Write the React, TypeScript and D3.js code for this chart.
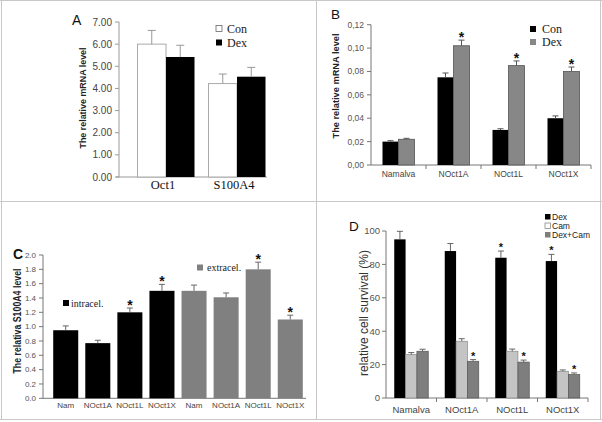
import React from 'react';
import * as d3 from 'd3';

const SANS = '"Liberation Sans", Arial, sans-serif';
const SERIF = '"Liberation Serif", "Times New Roman", serif';

// ---------- Panel A ----------
const catsA = ['Oct1', 'S100A4'];
const conA = [6.0, 4.22];
const conErrA = [0.62, 0.43];
const dexA = [5.42, 4.53];
const dexErrA = [0.53, 0.42];
const ticksA = [0, 1, 2, 3, 4, 5, 6, 7];

// ---------- Panel B ----------
const catsB = ['Namalva', 'NOct1A', 'NOct1L', 'NOct1X'];
const conB = [0.02, 0.075, 0.03, 0.04];
const conErrB = [0.0008, 0.0037, 0.001, 0.002];
const dexB = [0.022, 0.102, 0.085, 0.08];
const dexErrB = [0.0008, 0.0048, 0.004, 0.0038];
const starB = [false, true, true, true];
const ticksB = [0, 0.02, 0.04, 0.06, 0.08, 0.1, 0.12];

// ---------- Panel C ----------
const catsC = ['Nam', 'NOct1A', 'NOct1L', 'NOct1X'];
const intraC = [0.95, 0.77, 1.2, 1.5];
const intraErrC = [0.06, 0.04, 0.06, 0.09];
const intraStarC = [false, false, true, true];
const extraC = [1.5, 1.41, 1.8, 1.1];
const extraErrC = [0.08, 0.06, 0.1, 0.06];
const extraStarC = [false, false, true, true];
const ticksC = [0, 0.2, 0.4, 0.6, 0.8, 1.0, 1.2, 1.4, 1.6, 1.8, 2.0];

// ---------- Panel D ----------
const catsD = ['Namalva', 'NOct1A', 'NOct1L', 'NOct1X'];
const dexD = [95, 88, 84, 82];
const dexErrD = [4.8, 4.5, 4, 4];
const dexStarD = [false, false, true, true];
const camD = [26, 34, 28, 16];
const camErrD = [1.2, 1.5, 1.3, 0.8];
const dcD = [28, 22, 21.5, 14];
const dcErrD = [1.2, 1.0, 1.2, 1.0];
const dcStarD = [false, true, true, true];
const ticksD = [0, 20, 40, 60, 80, 100];
const legendD = ['Dex', 'Cam', 'Dex+Cam'];

const ErrBar = ({ x, y0, y1, cap, color }: { x: number; y0: number; y1: number; cap: number; color: string }) => (
  <g stroke={color} strokeWidth={1}>
    <line x1={x} x2={x} y1={y0} y2={y1} />
    <line x1={x - cap} x2={x + cap} y1={y1} y2={y1} />
  </g>
);

function PanelA() {
  const y = d3.scaleLinear().domain([0, 7]).range([177, 22]);
  const x = d3.scaleBand().domain(catsA).range([130.5, 272.5]);
  const sub = d3.scaleBand().domain(['Con', 'Dex']).range([0, 57]);
  const axisC = '#9a9a9a';
  return (
    <g>
      <text x={72} y={25} fontFamily={SANS} fontSize={14} fill="#111">A</text>
      {ticksA.map((t) => (
        <g key={t}>
          <line x1={115} x2={119} y1={y(t)} y2={y(t)} stroke={axisC} />
          <text x={112} y={y(t)} dy="0.35em" textAnchor="end" fontFamily={SANS} fontSize={10} fill="#444">
            {d3.format('.2f')(t)}
          </text>
        </g>
      ))}
      <line x1={119} x2={119} y1={22} y2={177} stroke={axisC} />
      <line x1={116} x2={267} y1={177} y2={177} stroke={axisC} />
      <text transform={`translate(86,98) rotate(-90)`} textAnchor="middle" fontFamily={SANS} fontSize={9.5} fontWeight="bold" fill="#222" textLength={101} lengthAdjust="spacingAndGlyphs">
        The relative mRNA level
      </text>
      {catsA.map((c, i) => {
        const cx = (x(c) as number) + x.bandwidth() / 2;
        const x0 = cx - 28.5;
        const bw = sub.bandwidth();
        return (
          <g key={c}>
            <rect x={x0 + (sub('Con') as number)} y={y(conA[i])} width={bw} height={y(0) - y(conA[i])} fill="#fff" stroke="#aaa" />
            <ErrBar x={x0 + (sub('Con') as number) + bw / 2} y0={y(conA[i])} y1={y(conA[i] + conErrA[i])} cap={4} color="#999" />
            <rect x={x0 + (sub('Dex') as number)} y={y(dexA[i])} width={bw} height={y(0) - y(dexA[i])} fill="#000" />
            <ErrBar x={x0 + (sub('Dex') as number) + bw / 2} y0={y(dexA[i])} y1={y(dexA[i] + dexErrA[i])} cap={4} color="#999" />
            <text x={cx - 3} y={189} textAnchor="middle" fontFamily={SERIF} fontSize={12.5} fill="#111">{c}</text>
          </g>
        );
      })}
      <rect x={216} y={25.5} width={6} height={6} fill="#fff" stroke="#666" strokeWidth={0.8} />
      <text x={227} y={33} fontFamily={SERIF} fontSize={12} fill="#222">Con</text>
      <rect x={216} y={39.5} width={6} height={6} fill="#000" />
      <text x={227} y={47} fontFamily={SERIF} fontSize={12} fill="#222">Dex</text>
    </g>
  );
}

function PanelB() {
  const y = d3.scaleLinear().domain([0, 0.12]).range([165, 24.7]);
  const x = d3.scaleBand().domain(catsB).range([371, 591]);
  const sub = d3.scaleBand().domain(['Con', 'Dex']).range([0, 32]);
  const axisC = '#777';
  const fmt = (v: number) => d3.format('.2f')(v).replace('.', ',');
  return (
    <g>
      <text x={331} y={19} fontFamily={SANS} fontSize={13.5} fill="#111">B</text>
      {ticksB.map((t) => (
        <g key={t}>
          <line x1={367} x2={371} y1={y(t)} y2={y(t)} stroke={axisC} />
          <text x={364} y={y(t)} dy="0.35em" textAnchor="end" fontFamily={SANS} fontSize={8.5} fill="#555">{fmt(t)}</text>
        </g>
      ))}
      <line x1={371} x2={371} y1={24.7} y2={165} stroke={axisC} />
      <line x1={371} x2={591} y1={165} y2={165} stroke={axisC} />
      {catsB.map((c) => (
        <line key={c} x1={(x(c) as number) + x.bandwidth()} x2={(x(c) as number) + x.bandwidth()} y1={165} y2={169} stroke={axisC} />
      ))}
      <text transform={`translate(339,86) rotate(-90)`} textAnchor="middle" fontFamily={SANS} fontSize={9} fontWeight="bold" fill="#222" textLength={105} lengthAdjust="spacingAndGlyphs">
        The relative mRNA level
      </text>
      {catsB.map((c, i) => {
        const cx = (x(c) as number) + x.bandwidth() / 2;
        const x0 = cx - 16;
        const bw = sub.bandwidth();
        const xd = x0 + (sub('Dex') as number) + bw / 2;
        const errTop = y(dexB[i] + dexErrB[i]);
        return (
          <g key={c}>
            <rect x={x0} y={y(conB[i])} width={bw} height={y(0) - y(conB[i])} fill="#000" />
            <ErrBar x={x0 + bw / 2} y0={y(conB[i])} y1={y(conB[i] + conErrB[i])} cap={3} color="#555" />
            <rect x={x0 + (sub('Dex') as number)} y={y(dexB[i])} width={bw} height={y(0) - y(dexB[i])} fill="#878787" stroke="#555" strokeWidth={0.8} />
            <ErrBar x={xd} y0={y(dexB[i])} y1={errTop} cap={3} color="#555" />
            {starB[i] && (
              <text x={xd} y={errTop + 2} textAnchor="middle" fontFamily={SANS} fontSize={14} fontWeight="bold" fill="#111">*</text>
            )}
            <text x={cx} y={177} textAnchor="middle" fontFamily={SANS} fontSize={8.5} fill="#444">{c}</text>
          </g>
        );
      })}
      <rect x={530} y={26} width={6} height={6} fill="#000" />
      <text x={542} y={33} fontFamily={SERIF} fontSize={12} fill="#222">Con</text>
      <rect x={530} y={39} width={6} height={6} fill="#878787" />
      <text x={542} y={46} fontFamily={SERIF} fontSize={12} fill="#222">Dex</text>
    </g>
  );
}

function PanelC() {
  const y = d3.scaleLinear().domain([0, 2]).range([398.3, 255]);
  const keys = [...catsC.map((c) => 'i-' + c), ...catsC.map((c) => 'e-' + c)];
  const x = d3.scaleBand().domain(keys).range([50, 306]).paddingInner(0.22).paddingOuter(0.1);
  const axisC = '#777';
  const vals = [...intraC, ...extraC];
  const errs = [...intraErrC, ...extraErrC];
  const stars = [...intraStarC, ...extraStarC];
  return (
    <g>
      <text x={13} y={259} fontFamily={SANS} fontSize={14} fontWeight="bold" fill="#111">C</text>
      {ticksC.map((t) => (
        <g key={t}>
          <line x1={39} x2={43} y1={y(t)} y2={y(t)} stroke={axisC} />
          <text x={36} y={y(t)} dy="0.35em" textAnchor="end" fontFamily={SANS} fontSize={8} fill="#555">{d3.format('.1f')(t)}</text>
        </g>
      ))}
      <line x1={43} x2={43} y1={255} y2={398.3} stroke={axisC} />
      <line x1={43} x2={306} y1={398.3} y2={398.3} stroke={axisC} />
      <text transform={`translate(21,321) rotate(-90)`} textAnchor="middle" fontFamily={SANS} fontSize={10} fontWeight="bold" fill="#222" textLength={105} lengthAdjust="spacingAndGlyphs">
        The relativa  S100A4 level
      </text>
      {keys.map((k, i) => {
        const bx = x(k) as number;
        const bw = x.bandwidth();
        const cx = bx + bw / 2;
        const color = i < 4 ? '#000' : '#808080';
        const errTop = y(vals[i] + errs[i]);
        return (
          <g key={k}>
            <rect x={bx} y={y(vals[i])} width={bw} height={y(0) - y(vals[i])} fill={color} />
            <ErrBar x={cx} y0={y(vals[i])} y1={errTop} cap={3} color="#666" />
            {stars[i] && (
              <text x={cx} y={errTop + 2} textAnchor="middle" fontFamily={SANS} fontSize={14} fontWeight="bold" fill="#111">*</text>
            )}
            <text x={cx} y={408} textAnchor="middle" fontFamily={SANS} fontSize={8} fill="#444">{k.slice(2)}</text>
          </g>
        );
      })}
      <rect x={63} y={300} width={6} height={6} fill="#000" />
      <text x={71} y={306.5} fontFamily={SERIF} fontSize={10} fill="#222">intracel.</text>
      <rect x={197} y={264.5} width={6} height={6} fill="#808080" />
      <text x={207} y={271} fontFamily={SERIF} fontSize={10} fill="#222">extracel.</text>
    </g>
  );
}

function PanelD() {
  const y = d3.scaleLinear().domain([0, 100]).range([398, 231]);
  const x = d3.scaleBand().domain(catsD).range([386, 588]);
  const sub = d3.scaleBand().domain(['Dex', 'Cam', 'DexCam']).range([0, 34]);
  const axisC = '#777';
  const series = [
    { key: 'Dex', v: dexD, e: dexErrD, s: dexStarD, fill: '#000', stroke: 'none' },
    { key: 'Cam', v: camD, e: camErrD, s: [false, false, false, false], fill: '#c4c4c4', stroke: '#888' },
    { key: 'DexCam', v: dcD, e: dcErrD, s: dcStarD, fill: '#7e7e7e', stroke: '#555' },
  ];
  const legFill = ['#000', '#fff', '#7e7e7e'];
  return (
    <g>
      <text x={349} y={231} fontFamily={SANS} fontSize={13.5} fill="#111">D</text>
      {ticksD.map((t) => (
        <g key={t}>
          <line x1={382} x2={386} y1={y(t)} y2={y(t)} stroke={axisC} />
          <text x={380} y={y(t)} dy="0.35em" textAnchor="end" fontFamily={SANS} fontSize={9.5} fill="#555">{t}</text>
        </g>
      ))}
      <line x1={386} x2={386} y1={231} y2={398} stroke={axisC} />
      <line x1={386} x2={588} y1={398} y2={398} stroke={axisC} />
      {catsD.map((c) => (
        <line key={c} x1={(x(c) as number) + x.bandwidth()} x2={(x(c) as number) + x.bandwidth()} y1={398} y2={402} stroke={axisC} />
      ))}
      <text transform={`translate(368,313) rotate(-90)`} textAnchor="middle" fontFamily={SANS} fontSize={12} fill="#333">
        relative cell survival (%)
      </text>
      {catsD.map((c, i) => {
        const cx = (x(c) as number) + x.bandwidth() / 2;
        const x0 = cx - 17;
        const bw = sub.bandwidth();
        return (
          <g key={c}>
            {series.map((s) => {
              const bx = x0 + (sub(s.key) as number);
              const errTop = y(s.v[i] + s.e[i]);
              return (
                <g key={s.key}>
                  <rect x={bx} y={y(s.v[i])} width={bw} height={y(0) - y(s.v[i])} fill={s.fill} stroke={s.stroke} strokeWidth={0.7} />
                  <ErrBar x={bx + bw / 2} y0={y(s.v[i])} y1={errTop} cap={3} color="#666" />
                  {s.s[i] && (
                    <text x={bx + bw / 2} y={errTop} textAnchor="middle" fontFamily={SANS} fontSize={11} fontWeight="bold" fill="#111">*</text>
                  )}
                </g>
              );
            })}
            <text x={cx} y={413} textAnchor="middle" fontFamily={SANS} fontSize={9.5} fill="#444">{c}</text>
          </g>
        );
      })}
      {legendD.map((l, i) => (
        <g key={l}>
          <rect x={545} y={214 + i * 9} width={5.5} height={5.5} fill={legFill[i]} stroke={i === 1 ? '#888' : 'none'} strokeWidth={0.8} />
          <text x={552} y={220 + i * 9} fontFamily={SANS} fontSize={8.5} fill="#222">{l}</text>
        </g>
      ))}
    </g>
  );
}

export default function App() {
  const frame = '#c8c8c8';
  return (
    <svg width={602} height={422} style={{ position: 'absolute', left: 0, top: 0, background: '#fff' }}>
      <rect x={0} y={0} width={602} height={422} fill="#fff" />
      <g stroke={frame} strokeWidth={1} fill="none">
        <line x1={1.5} x2={1.5} y1={0} y2={420} />
        <line x1={600.5} x2={600.5} y1={0} y2={420} />
        <line x1={0} x2={602} y1={0.5} y2={0.5} />
        <line x1={0} x2={602} y1={419.5} y2={419.5} />
        <line x1={0} x2={602} y1={201.5} y2={201.5} />
        <line x1={316.5} x2={316.5} y1={0} y2={420} />
      </g>
      <PanelA />
      <PanelB />
      <PanelC />
      <PanelD />
    </svg>
  );
}
